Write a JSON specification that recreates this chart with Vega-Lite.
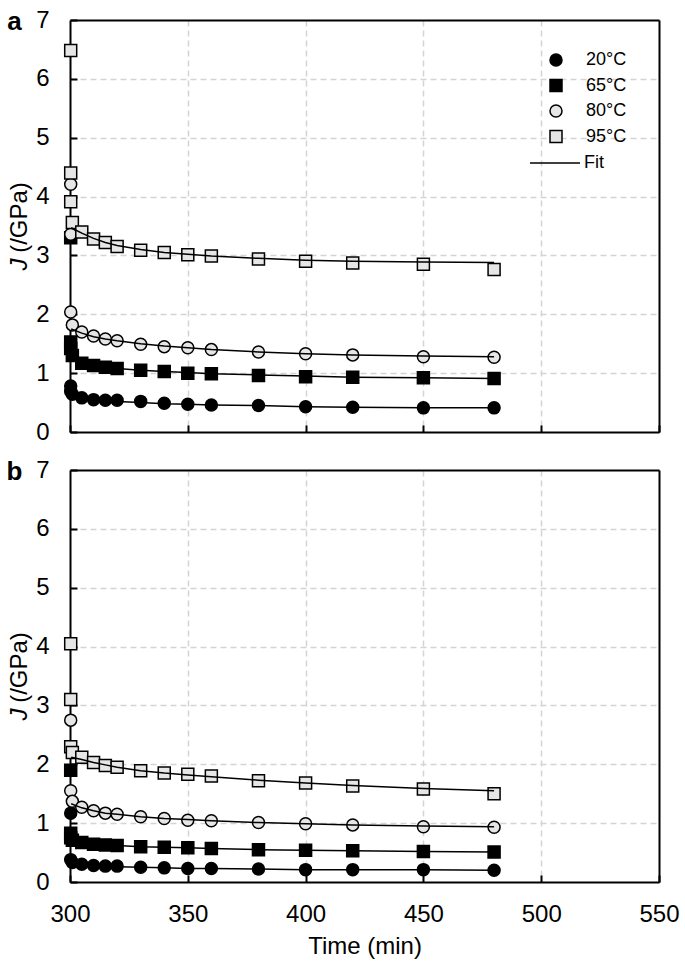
{
"$schema":"https://vega.github.io/schema/vega-lite/v6.json",
"padding":{"left":6,"top":8,"right":5,"bottom":5},
"background":"white",
"datasets":{
"pts":[
{"p":"a","temp":"20°C","t":300.3,"J":0.78},{"p":"a","temp":"20°C","t":300.3,"J":0.69},{"p":"a","temp":"20°C","t":301,"J":0.64},{"p":"a","temp":"20°C","t":305,"J":0.58},{"p":"a","temp":"20°C","t":310,"J":0.55},{"p":"a","temp":"20°C","t":315,"J":0.54},{"p":"a","temp":"20°C","t":320,"J":0.54},{"p":"a","temp":"20°C","t":330,"J":0.52},{"p":"a","temp":"20°C","t":340,"J":0.49},{"p":"a","temp":"20°C","t":350,"J":0.47},{"p":"a","temp":"20°C","t":360,"J":0.46},{"p":"a","temp":"20°C","t":380,"J":0.45},{"p":"a","temp":"20°C","t":400,"J":0.43},{"p":"a","temp":"20°C","t":420,"J":0.42},{"p":"a","temp":"20°C","t":450,"J":0.41},{"p":"a","temp":"20°C","t":480,"J":0.41},
{"p":"a","temp":"65°C","t":300.3,"J":3.30},{"p":"a","temp":"65°C","t":300.3,"J":1.53},{"p":"a","temp":"65°C","t":300.3,"J":1.42},{"p":"a","temp":"65°C","t":301,"J":1.30},{"p":"a","temp":"65°C","t":305,"J":1.17},{"p":"a","temp":"65°C","t":310,"J":1.13},{"p":"a","temp":"65°C","t":315,"J":1.10},{"p":"a","temp":"65°C","t":320,"J":1.08},{"p":"a","temp":"65°C","t":330,"J":1.05},{"p":"a","temp":"65°C","t":340,"J":1.03},{"p":"a","temp":"65°C","t":350,"J":1.00},{"p":"a","temp":"65°C","t":360,"J":0.99},{"p":"a","temp":"65°C","t":380,"J":0.96},{"p":"a","temp":"65°C","t":400,"J":0.94},{"p":"a","temp":"65°C","t":420,"J":0.93},{"p":"a","temp":"65°C","t":450,"J":0.92},{"p":"a","temp":"65°C","t":480,"J":0.91},
{"p":"a","temp":"80°C","t":300.3,"J":4.21},{"p":"a","temp":"80°C","t":300.3,"J":3.36},{"p":"a","temp":"80°C","t":300.3,"J":2.04},{"p":"a","temp":"80°C","t":301,"J":1.82},{"p":"a","temp":"80°C","t":305,"J":1.70},{"p":"a","temp":"80°C","t":310,"J":1.63},{"p":"a","temp":"80°C","t":315,"J":1.58},{"p":"a","temp":"80°C","t":320,"J":1.55},{"p":"a","temp":"80°C","t":330,"J":1.49},{"p":"a","temp":"80°C","t":340,"J":1.45},{"p":"a","temp":"80°C","t":350,"J":1.43},{"p":"a","temp":"80°C","t":360,"J":1.40},{"p":"a","temp":"80°C","t":380,"J":1.36},{"p":"a","temp":"80°C","t":400,"J":1.33},{"p":"a","temp":"80°C","t":420,"J":1.31},{"p":"a","temp":"80°C","t":450,"J":1.28},{"p":"a","temp":"80°C","t":480,"J":1.27},
{"p":"a","temp":"95°C","t":300.3,"J":6.48},{"p":"a","temp":"95°C","t":300.3,"J":4.40},{"p":"a","temp":"95°C","t":300.3,"J":3.91},{"p":"a","temp":"95°C","t":301,"J":3.56},{"p":"a","temp":"95°C","t":305,"J":3.40},{"p":"a","temp":"95°C","t":310,"J":3.28},{"p":"a","temp":"95°C","t":315,"J":3.22},{"p":"a","temp":"95°C","t":320,"J":3.15},{"p":"a","temp":"95°C","t":330,"J":3.09},{"p":"a","temp":"95°C","t":340,"J":3.05},{"p":"a","temp":"95°C","t":350,"J":3.01},{"p":"a","temp":"95°C","t":360,"J":2.99},{"p":"a","temp":"95°C","t":380,"J":2.94},{"p":"a","temp":"95°C","t":400,"J":2.90},{"p":"a","temp":"95°C","t":420,"J":2.87},{"p":"a","temp":"95°C","t":450,"J":2.85},{"p":"a","temp":"95°C","t":480,"J":2.76},
{"p":"b","temp":"20°C","t":300.3,"J":1.17},{"p":"b","temp":"20°C","t":300.3,"J":0.38},{"p":"b","temp":"20°C","t":301,"J":0.33},{"p":"b","temp":"20°C","t":305,"J":0.30},{"p":"b","temp":"20°C","t":310,"J":0.28},{"p":"b","temp":"20°C","t":315,"J":0.27},{"p":"b","temp":"20°C","t":320,"J":0.27},{"p":"b","temp":"20°C","t":330,"J":0.25},{"p":"b","temp":"20°C","t":340,"J":0.24},{"p":"b","temp":"20°C","t":350,"J":0.23},{"p":"b","temp":"20°C","t":360,"J":0.23},{"p":"b","temp":"20°C","t":380,"J":0.22},{"p":"b","temp":"20°C","t":400,"J":0.21},{"p":"b","temp":"20°C","t":420,"J":0.21},{"p":"b","temp":"20°C","t":450,"J":0.21},{"p":"b","temp":"20°C","t":480,"J":0.20},
{"p":"b","temp":"65°C","t":300.3,"J":1.90},{"p":"b","temp":"65°C","t":300.3,"J":0.83},{"p":"b","temp":"65°C","t":300.3,"J":0.75},{"p":"b","temp":"65°C","t":301,"J":0.71},{"p":"b","temp":"65°C","t":305,"J":0.67},{"p":"b","temp":"65°C","t":310,"J":0.64},{"p":"b","temp":"65°C","t":315,"J":0.63},{"p":"b","temp":"65°C","t":320,"J":0.62},{"p":"b","temp":"65°C","t":330,"J":0.60},{"p":"b","temp":"65°C","t":340,"J":0.59},{"p":"b","temp":"65°C","t":350,"J":0.58},{"p":"b","temp":"65°C","t":360,"J":0.57},{"p":"b","temp":"65°C","t":380,"J":0.55},{"p":"b","temp":"65°C","t":400,"J":0.54},{"p":"b","temp":"65°C","t":420,"J":0.53},{"p":"b","temp":"65°C","t":450,"J":0.52},{"p":"b","temp":"65°C","t":480,"J":0.51},
{"p":"b","temp":"80°C","t":300.3,"J":2.75},{"p":"b","temp":"80°C","t":300.3,"J":1.55},{"p":"b","temp":"80°C","t":301,"J":1.37},{"p":"b","temp":"80°C","t":305,"J":1.27},{"p":"b","temp":"80°C","t":310,"J":1.21},{"p":"b","temp":"80°C","t":315,"J":1.17},{"p":"b","temp":"80°C","t":320,"J":1.15},{"p":"b","temp":"80°C","t":330,"J":1.11},{"p":"b","temp":"80°C","t":340,"J":1.08},{"p":"b","temp":"80°C","t":350,"J":1.05},{"p":"b","temp":"80°C","t":360,"J":1.04},{"p":"b","temp":"80°C","t":380,"J":1.01},{"p":"b","temp":"80°C","t":400,"J":0.99},{"p":"b","temp":"80°C","t":420,"J":0.97},{"p":"b","temp":"80°C","t":450,"J":0.94},{"p":"b","temp":"80°C","t":480,"J":0.93},
{"p":"b","temp":"95°C","t":300.3,"J":4.05},{"p":"b","temp":"95°C","t":300.3,"J":3.10},{"p":"b","temp":"95°C","t":300.3,"J":2.30},{"p":"b","temp":"95°C","t":301,"J":2.20},{"p":"b","temp":"95°C","t":305,"J":2.12},{"p":"b","temp":"95°C","t":310,"J":2.03},{"p":"b","temp":"95°C","t":315,"J":1.98},{"p":"b","temp":"95°C","t":320,"J":1.95},{"p":"b","temp":"95°C","t":330,"J":1.89},{"p":"b","temp":"95°C","t":340,"J":1.85},{"p":"b","temp":"95°C","t":350,"J":1.83},{"p":"b","temp":"95°C","t":360,"J":1.80},{"p":"b","temp":"95°C","t":380,"J":1.72},{"p":"b","temp":"95°C","t":400,"J":1.68},{"p":"b","temp":"95°C","t":420,"J":1.63},{"p":"b","temp":"95°C","t":450,"J":1.58},{"p":"b","temp":"95°C","t":480,"J":1.50}
],
"fit":[
{"p":"a","temp":"20°C","t":300.5,"J":0.63},{"p":"a","temp":"20°C","t":305,"J":0.58},{"p":"a","temp":"20°C","t":310,"J":0.55},{"p":"a","temp":"20°C","t":315,"J":0.53},{"p":"a","temp":"20°C","t":320,"J":0.52},{"p":"a","temp":"20°C","t":330,"J":0.50},{"p":"a","temp":"20°C","t":340,"J":0.48},{"p":"a","temp":"20°C","t":350,"J":0.47},{"p":"a","temp":"20°C","t":360,"J":0.46},{"p":"a","temp":"20°C","t":380,"J":0.45},{"p":"a","temp":"20°C","t":400,"J":0.43},{"p":"a","temp":"20°C","t":420,"J":0.42},{"p":"a","temp":"20°C","t":450,"J":0.41},{"p":"a","temp":"20°C","t":480,"J":0.41},
{"p":"a","temp":"65°C","t":300.5,"J":1.25},{"p":"a","temp":"65°C","t":305,"J":1.17},{"p":"a","temp":"65°C","t":310,"J":1.13},{"p":"a","temp":"65°C","t":315,"J":1.10},{"p":"a","temp":"65°C","t":320,"J":1.08},{"p":"a","temp":"65°C","t":330,"J":1.05},{"p":"a","temp":"65°C","t":340,"J":1.03},{"p":"a","temp":"65°C","t":350,"J":1.01},{"p":"a","temp":"65°C","t":360,"J":0.99},{"p":"a","temp":"65°C","t":380,"J":0.97},{"p":"a","temp":"65°C","t":400,"J":0.95},{"p":"a","temp":"65°C","t":420,"J":0.93},{"p":"a","temp":"65°C","t":450,"J":0.92},{"p":"a","temp":"65°C","t":480,"J":0.91},
{"p":"a","temp":"80°C","t":300.5,"J":1.75},{"p":"a","temp":"80°C","t":305,"J":1.68},{"p":"a","temp":"80°C","t":310,"J":1.62},{"p":"a","temp":"80°C","t":315,"J":1.58},{"p":"a","temp":"80°C","t":320,"J":1.55},{"p":"a","temp":"80°C","t":330,"J":1.50},{"p":"a","temp":"80°C","t":340,"J":1.46},{"p":"a","temp":"80°C","t":350,"J":1.43},{"p":"a","temp":"80°C","t":360,"J":1.40},{"p":"a","temp":"80°C","t":380,"J":1.36},{"p":"a","temp":"80°C","t":400,"J":1.33},{"p":"a","temp":"80°C","t":420,"J":1.31},{"p":"a","temp":"80°C","t":450,"J":1.29},{"p":"a","temp":"80°C","t":480,"J":1.28},
{"p":"a","temp":"95°C","t":300.5,"J":3.47},{"p":"a","temp":"95°C","t":305,"J":3.38},{"p":"a","temp":"95°C","t":310,"J":3.29},{"p":"a","temp":"95°C","t":315,"J":3.22},{"p":"a","temp":"95°C","t":320,"J":3.17},{"p":"a","temp":"95°C","t":330,"J":3.10},{"p":"a","temp":"95°C","t":340,"J":3.05},{"p":"a","temp":"95°C","t":350,"J":3.02},{"p":"a","temp":"95°C","t":360,"J":2.99},{"p":"a","temp":"95°C","t":380,"J":2.95},{"p":"a","temp":"95°C","t":400,"J":2.92},{"p":"a","temp":"95°C","t":420,"J":2.90},{"p":"a","temp":"95°C","t":450,"J":2.89},{"p":"a","temp":"95°C","t":480,"J":2.88},
{"p":"b","temp":"20°C","t":300.5,"J":0.33},{"p":"b","temp":"20°C","t":305,"J":0.29},{"p":"b","temp":"20°C","t":310,"J":0.27},{"p":"b","temp":"20°C","t":315,"J":0.26},{"p":"b","temp":"20°C","t":320,"J":0.26},{"p":"b","temp":"20°C","t":330,"J":0.25},{"p":"b","temp":"20°C","t":340,"J":0.24},{"p":"b","temp":"20°C","t":350,"J":0.23},{"p":"b","temp":"20°C","t":360,"J":0.23},{"p":"b","temp":"20°C","t":380,"J":0.22},{"p":"b","temp":"20°C","t":400,"J":0.21},{"p":"b","temp":"20°C","t":420,"J":0.21},{"p":"b","temp":"20°C","t":450,"J":0.21},{"p":"b","temp":"20°C","t":480,"J":0.20},
{"p":"b","temp":"65°C","t":300.5,"J":0.72},{"p":"b","temp":"65°C","t":305,"J":0.66},{"p":"b","temp":"65°C","t":310,"J":0.64},{"p":"b","temp":"65°C","t":315,"J":0.63},{"p":"b","temp":"65°C","t":320,"J":0.62},{"p":"b","temp":"65°C","t":330,"J":0.60},{"p":"b","temp":"65°C","t":340,"J":0.59},{"p":"b","temp":"65°C","t":350,"J":0.58},{"p":"b","temp":"65°C","t":360,"J":0.57},{"p":"b","temp":"65°C","t":380,"J":0.55},{"p":"b","temp":"65°C","t":400,"J":0.54},{"p":"b","temp":"65°C","t":420,"J":0.53},{"p":"b","temp":"65°C","t":450,"J":0.52},{"p":"b","temp":"65°C","t":480,"J":0.51},
{"p":"b","temp":"80°C","t":300.5,"J":1.33},{"p":"b","temp":"80°C","t":305,"J":1.26},{"p":"b","temp":"80°C","t":310,"J":1.21},{"p":"b","temp":"80°C","t":315,"J":1.17},{"p":"b","temp":"80°C","t":320,"J":1.15},{"p":"b","temp":"80°C","t":330,"J":1.11},{"p":"b","temp":"80°C","t":340,"J":1.08},{"p":"b","temp":"80°C","t":350,"J":1.06},{"p":"b","temp":"80°C","t":360,"J":1.04},{"p":"b","temp":"80°C","t":380,"J":1.01},{"p":"b","temp":"80°C","t":400,"J":0.99},{"p":"b","temp":"80°C","t":420,"J":0.97},{"p":"b","temp":"80°C","t":450,"J":0.95},{"p":"b","temp":"80°C","t":480,"J":0.94},
{"p":"b","temp":"95°C","t":300.5,"J":2.12},{"p":"b","temp":"95°C","t":305,"J":2.08},{"p":"b","temp":"95°C","t":310,"J":2.03},{"p":"b","temp":"95°C","t":315,"J":1.99},{"p":"b","temp":"95°C","t":320,"J":1.95},{"p":"b","temp":"95°C","t":330,"J":1.89},{"p":"b","temp":"95°C","t":340,"J":1.85},{"p":"b","temp":"95°C","t":350,"J":1.82},{"p":"b","temp":"95°C","t":360,"J":1.79},{"p":"b","temp":"95°C","t":380,"J":1.73},{"p":"b","temp":"95°C","t":400,"J":1.68},{"p":"b","temp":"95°C","t":420,"J":1.64},{"p":"b","temp":"95°C","t":450,"J":1.59},{"p":"b","temp":"95°C","t":480,"J":1.55}
]
},
"spacing":38,
"bounds":"flush",
"resolve":{"scale":{"shape":"independent","fill":"independent","stroke":"independent"}},
"vconcat":[
{
"width":589,"height":412,
"layer":[
{"layer":[
{"data":{"name":"pts"},"transform":[{"filter":"datum.p==='a'"}],
"mark":{"type":"point","filled":true,"size":144,"stroke":"black","strokeWidth":1.5,"opacity":1},
"encoding":{
"x":{"field":"t","type":"quantitative","scale":{"domain":[300,550],"nice":false,"zero":false},"axis":{"values":[300,350,400,450,500,550],"labels":false,"title":null,"gridOpacity":{"condition":{"test":"datum.value==300||datum.value==550","value":0},"value":1}}},
"y":{"field":"J","type":"quantitative","scale":{"domain":[0,7],"nice":false},"axis":{"values":[0,1,2,3,4,5,6,7],"format":"d","labelPadding":28,"title":"(/GPa)","titleX":-51,"titleY":197,"titleAngle":270,"titleAlign":"center","titleBaseline":"middle","gridOpacity":{"condition":{"test":"datum.value==0||datum.value==7","value":0},"value":1}}},
"shape":{"field":"temp","type":"nominal","scale":{"domain":["20°C","65°C","80°C","95°C"],"range":["circle","square","circle","square"]},"legend":{"title":null,"orient":"none","legendX":477,"legendY":31,"labelFontSize":18,"symbolSize":144,"labelOffset":21,"rowPadding":7.5,"padding":0,"encode":{"symbols":{"update":{"stroke":{"value":"black"},"strokeWidth":{"value":1.5}}}}}},
"fill":{"field":"temp","type":"nominal","scale":{"domain":["20°C","65°C","80°C","95°C"],"range":["black","black","#e6e6e6","#e6e6e6"]},"legend":{"title":null,"orient":"none","legendX":477,"legendY":31,"labelFontSize":18,"symbolSize":144,"labelOffset":21,"rowPadding":7.5,"padding":0,"encode":{"symbols":{"update":{"stroke":{"value":"black"},"strokeWidth":{"value":1.5}}}}}}
}},
{"data":{"name":"fit"},"transform":[{"filter":"datum.p==='a'"}],
"mark":{"type":"line","strokeWidth":1.5},
"encoding":{
"x":{"field":"t","type":"quantitative"},
"y":{"field":"J","type":"quantitative"},
"detail":{"field":"temp","type":"nominal"},
"stroke":{"datum":"Fit","type":"nominal","scale":{"range":["black"]},"legend":{"title":null,"orient":"none","legendX":459,"legendY":117,"labelFontSize":18,"symbolType":"stroke","symbolSize":2500,"symbolStrokeWidth":1.5,"labelOffset":3,"padding":0}}
}}
]},
{"data":{"name":"pts"},"transform":[{"filter":"datum.p==='a'"}],
"mark":{"type":"point","opacity":0},
"encoding":{
"x":{"field":"t","type":"quantitative","scale":{"domain":[300,550],"nice":false,"zero":false},"axis":{"orient":"top","title":"a","labels":false,"ticks":false,"domain":true,"grid":false,"titleX":-56,"titleY":9,"titleFontSize":26,"titleFontWeight":"bold","titleAlign":"center","titleBaseline":"alphabetic","titleAngle":0}},
"y":{"field":"J","type":"quantitative","scale":{"domain":[0,7],"nice":false},"axis":{"orient":"right","title":"J","labels":false,"ticks":false,"domain":true,"grid":false,"titleX":-640,"titleY":244,"titleAngle":270,"titleFontStyle":"italic","titleAlign":"center","titleBaseline":"middle"}}
}}
],
"resolve":{"scale":{"x":"independent","y":"independent"},"axis":{"x":"independent","y":"independent"}}
},
{
"width":589,"height":412,
"layer":[
{"layer":[
{"data":{"name":"pts"},"transform":[{"filter":"datum.p==='b'"}],
"mark":{"type":"point","filled":true,"size":144,"stroke":"black","strokeWidth":1.5,"opacity":1},
"encoding":{
"x":{"field":"t","type":"quantitative","scale":{"domain":[300,550],"nice":false,"zero":false},"axis":{"values":[300,350,400,450,500,550],"format":"d","labelFlush":false,"title":"Time (min)","labelPadding":27,"titlePadding":8,"gridOpacity":{"condition":{"test":"datum.value==300||datum.value==550","value":0},"value":1}}},
"y":{"field":"J","type":"quantitative","scale":{"domain":[0,7],"nice":false},"axis":{"values":[0,1,2,3,4,5,6,7],"format":"d","labelPadding":28,"title":"(/GPa)","titleX":-51,"titleY":197,"titleAngle":270,"titleAlign":"center","titleBaseline":"middle","gridOpacity":{"condition":{"test":"datum.value==0||datum.value==7","value":0},"value":1}}},
"shape":{"field":"temp","type":"nominal","scale":{"domain":["20°C","65°C","80°C","95°C"],"range":["circle","square","circle","square"]},"legend":null},
"fill":{"field":"temp","type":"nominal","scale":{"domain":["20°C","65°C","80°C","95°C"],"range":["black","black","#e6e6e6","#e6e6e6"]},"legend":null}
}},
{"data":{"name":"fit"},"transform":[{"filter":"datum.p==='b'"}],
"mark":{"type":"line","strokeWidth":1.5,"color":"black"},
"encoding":{
"x":{"field":"t","type":"quantitative"},
"y":{"field":"J","type":"quantitative"},
"detail":{"field":"temp","type":"nominal"}
}}
]},
{"data":{"name":"pts"},"transform":[{"filter":"datum.p==='b'"}],
"mark":{"type":"point","opacity":0},
"encoding":{
"x":{"field":"t","type":"quantitative","scale":{"domain":[300,550],"nice":false,"zero":false},"axis":{"orient":"top","title":"b","labels":false,"ticks":false,"domain":true,"grid":false,"titleX":-56,"titleY":9,"titleFontSize":26,"titleFontWeight":"bold","titleAlign":"center","titleBaseline":"alphabetic","titleAngle":0}},
"y":{"field":"J","type":"quantitative","scale":{"domain":[0,7],"nice":false},"axis":{"orient":"right","title":"J","labels":false,"ticks":false,"domain":true,"grid":false,"titleX":-640,"titleY":244,"titleAngle":270,"titleFontStyle":"italic","titleAlign":"center","titleBaseline":"middle"}}
}}
],
"resolve":{"scale":{"x":"independent","y":"independent"},"axis":{"x":"independent","y":"independent"}}
}
],
"config":{
"font":"Liberation Sans",
"view":{"stroke":null},
"axis":{"domain":true,"domainColor":"black","domainWidth":2,"grid":true,"gridColor":"#d4d4d4","gridDash":[6,4],"gridWidth":1.5,"tickColor":"black","tickSize":-7,"tickWidth":2,"labelFontSize":24,"labelColor":"black","labelFont":"Liberation Sans","titleFont":"Liberation Sans","titleFontSize":24,"titleFontWeight":"normal","titleColor":"black"},
"legend":{"labelFont":"Liberation Sans","labelColor":"black"}
}
}
